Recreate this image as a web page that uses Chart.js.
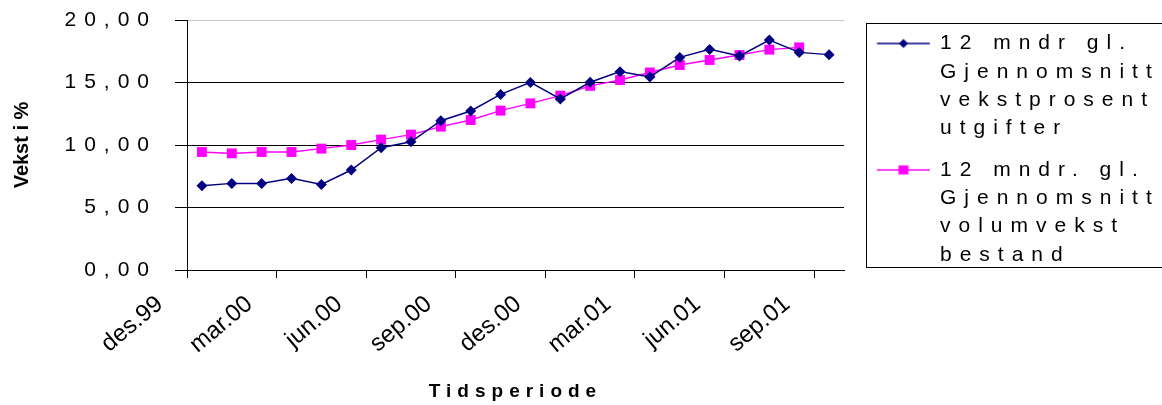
<!DOCTYPE html>
<html>
<head>
<meta charset="utf-8">
<script src="https://cdn.jsdelivr.net/npm/chart.js@4.4.1/dist/chart.umd.min.js"></script>
<style>
  body { margin: 0; background: #fff; }
</style>
</head>
<body>
<canvas id="vekst" width="1162" height="405"></canvas>
<script>

const months = ['des.99', 'jan.00', 'feb.00', 'mar.00', 'apr.00', 'mai.00', 'jun.00', 'jul.00',
    'aug.00', 'sep.00', 'okt.00', 'nov.00', 'des.00', 'jan.01', 'feb.01', 'mar.01', 'apr.01',
    'mai.01', 'jun.01', 'jul.01', 'aug.01', 'sep.01']

const utgifter = [6.74, 6.93, 6.93, 7.33, 6.85, 8.00, 9.78, 10.26, 11.94, 12.72, 14.05, 15.01,
    13.68, 15.02, 15.87, 15.45, 17.01, 17.65, 17.12, 18.40, 17.41, 17.23]

const bestand = [9.44, 9.33, 9.44, 9.44, 9.71, 10.00, 10.43, 10.83, 11.47, 12.00, 12.75, 13.33,
    13.95, 14.73, 15.20, 15.80, 16.40, 16.80, 17.20, 17.63, 17.81, null]

const legendUtgifter = ['12 mndr gl.', 'Gjennomsnitt', 'vekstprosent', 'utgifter']
const legendBestand = ['12 mndr. gl.', 'Gjennomsnitt', 'volumvekst', 'bestand']

const NAVY = '#000080'
const MAGENTA = '#ff00ff'

Chart.defaults.font.family = 'Arial, "Liberation Sans", sans-serif'
Chart.defaults.color = '#000'


// line with a marker in the middle, used as legend symbol
function legendMarker(color, shape) {
    const c = document.createElement('canvas')
    c.width = 74
    c.height = 16
    const g = c.getContext('2d')
    g.strokeStyle = color
    g.fillStyle = color
    g.lineWidth = 1.5
    g.beginPath()
    g.moveTo(20.75, 8)
    g.lineTo(73.75, 8)
    g.stroke()
    g.beginPath()
    if (shape == 'diamond') {
        g.moveTo(47.25, 3.5)
        g.lineTo(52, 8)
        g.lineTo(47.25, 12.5)
        g.lineTo(42.5, 8)
        g.closePath()
        g.fill()
    } else {
        g.fillRect(42.25, 3.5, 10, 9)
    }
    return c
}

const markers = [legendMarker(NAVY, 'diamond'), legendMarker(MAGENTA, 'square')]
const legendTexts = [legendUtgifter, legendBestand]


function withSpacing(fn, px) {
    return function (...args) {
        const old = this.ctx.letterSpacing
        this.ctx.letterSpacing = px
        fn.apply(this, args)
        this.ctx.letterSpacing = old
    }
}

// the original has wide letter spacing on most of its texts
const textSpacing = {
    id: 'textSpacing',
    beforeLayout(chart) {
        chart.ctx.letterSpacing = '8px'
    },
    beforeDraw(chart) {
        chart.ctx.letterSpacing = '8px'
        const { x, y } = chart.scales
        if (!x._spaced) {
            x.drawLabels = withSpacing(x.drawLabels, '0px')
            x.drawTitle = withSpacing(x.drawTitle, '6px')
            y.drawTitle = withSpacing(y.drawTitle, '0px')
            x._spaced = true
        }
    }
}

const legendFrame = {
    id: 'legendFrame',
    afterDraw(chart) {
        const { ctx, legend } = chart
        ctx.save()
        ctx.strokeStyle = '#000'
        ctx.lineWidth = 1
        ctx.strokeRect(Math.round(legend.left) + 22.5, Math.round(legend.top) + 3.5, 400, 244)
        ctx.restore()
    }
}


const dataChart = {
    labels: months,
    datasets: [
        {
            label: '12 mndr gl. Gjennomsnitt vekstprosent utgifter',
            data: utgifter,
            borderColor: NAVY,
            backgroundColor: NAVY,
            borderWidth: 1.5,
            pointStyle: 'rectRot',
            pointRadius: 5.5,
            pointBorderWidth: 0,
            tension: 0
        },
        {
            label: '12 mndr. gl. Gjennomsnitt volumvekst bestand',
            data: bestand,
            borderColor: MAGENTA,
            backgroundColor: MAGENTA,
            borderWidth: 1.5,
            pointStyle: 'rect',
            pointRadius: 7,
            pointBorderWidth: 0,
            tension: 0
        }
    ]
}

const options = {
    responsive: false,
    animation: false,
    devicePixelRatio: 1,
    layout: {
        padding: { top: 20, left: 0, right: 0, bottom: 0 }
    },
    scales: {
        x: {
            offset: true,
            afterFit(scale) { scale.height = 135 },
            grid: {
                offset: true,
                drawOnChartArea: false,
                tickLength: 8,
                tickColor: (ctx) => ctx.index % 3 == 0 ? '#000' : 'rgba(0,0,0,0)'
            },
            border: { color: '#000', width: 1 },
            ticks: {
                autoSkip: false,
                minRotation: 40,
                maxRotation: 40,
                padding: 12,
                labelOffset: -42,
                font: { size: 24 },
                callback: (value, index) => index % 3 == 0 ? months[index] : ''
            },
            title: {
                display: true,
                text: 'Tidsperiode',
                font: { size: 19, weight: 'bold' },
                padding: { top: 0, bottom: 2 }
            }
        },
        y: {
            min: 0,
            max: 20,
            afterFit(scale) {
                scale.width = 187
                scale.paddingTop = 0
                scale.paddingBottom = 0
            },
            grid: {
                color: (ctx) => ctx.tick && ctx.tick.value == 20 ? '#c4c4c4' : '#000',
                tickColor: '#000',
                tickLength: 12
            },
            border: { color: '#000', width: 1 },
            ticks: {
                stepSize: 5,
                padding: 18,
                font: { size: 21 },
                callback: (value) => value.toFixed(2).replace('.', ',')
            },
            title: {
                display: true,
                text: 'Vekst i %',
                font: { size: 20, weight: 'bold' },
                padding: { top: 10, bottom: 0 }
            }
        }
    },
    plugins: {
        tooltip: { enabled: false },
        legend: {
            position: 'right',
            align: 'start',
            fullSize: false,
            maxWidth: 318,
            labels: {
                usePointStyle: true,
                pointStyleWidth: 72.5,
                padding: 13,
                color: '#000',
                font: { size: 21, lineHeight: 1.35 },
                generateLabels(chart) {
                    return chart.data.datasets.map((ds, i) => ({
                        text: legendTexts[i],
                        fontColor: '#000',
                        fillStyle: ds.borderColor,
                        strokeStyle: ds.borderColor,
                        lineWidth: 0,
                        pointStyle: markers[i],
                        hidden: false,
                        datasetIndex: i
                    }))
                }
            }
        }
    }
}

new Chart(document.getElementById('vekst'), {
    type: 'line',
    data: dataChart,
    options: options,
    plugins: [textSpacing, legendFrame]
})

</script>
</body>
</html>
